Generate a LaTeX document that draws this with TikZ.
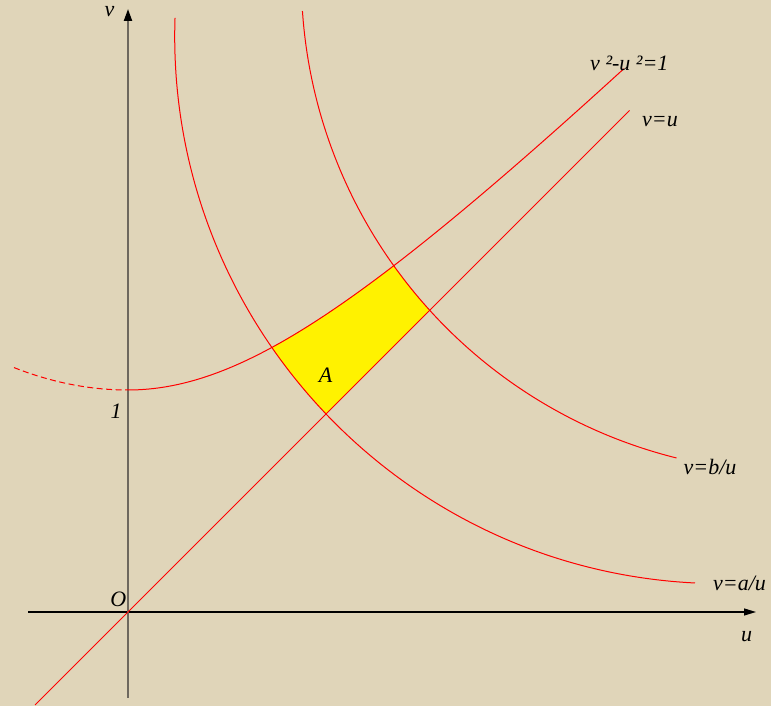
\documentclass[tikz,border=0pt]{standalone}
\usepackage{fontspec}
\setmainfont{Liberation Serif}
\usetikzlibrary{arrows.meta}
\definecolor{bg}{RGB}{224,213,185}
\definecolor{axgray}{RGB}{110,104,94}
\begin{document}
\begin{tikzpicture}[x=1pt,y=1pt,
  curve/.style={red, line width=1pt},
  lbl/.style={font=\itshape\fontsize{22}{25}\selectfont, inner sep=0pt, text=black}]
\fill[bg] (0,0) rectangle (771,706);
\useasboundingbox (0,0) rectangle (771,706);
% named points
\coordinate (ca) at (722.3,669.9);
\coordinate (cb) at (796.3,728.3);
\coordinate (O) at (128,94);
\coordinate (uL) at (28,94);
\coordinate (uR) at (756,94);
\coordinate (vB) at (128,8);
\coordinate (vT) at (128,697);
\coordinate (dL) at (35,1);
\coordinate (dR) at (629.5,595.5);
% region A
\begin{scope}
  \clip (ca) circle (547.6);
  \clip (-100,-134) -- (800,766) -- (-100,766) -- cycle;
  \clip (128,0) -- plot[domain=0:2.4, samples=80] ({128+222*\x},{94+222*sqrt(1+\x*\x)}) -- (800,0) -- cycle;
  \fill[yellow, even odd rule] (0,0) rectangle (771,706) (cb) circle (495);
\end{scope}
% axes
\draw[line width=1.2pt, -{Triangle[length=12pt,width=7pt]}] (uL) -- (uR);
\draw[axgray, line width=2pt, -{Triangle[length=12pt,width=8pt,color=black]}] (vB) -- (vT);
% curves
\draw[curve] plot[domain=0:2.234, samples=120] ({128+222*\x},{94+222*sqrt(1+\x*\x)});
\draw[curve, dash pattern=on 6pt off 3.5pt] plot[domain=14:128, samples=40] (\x,{316+0.00172*(\x-128)*(\x-128)});
\draw[curve] (ca) ++(178.1:547.6) arc[start angle=178.1, end angle=267.14, radius=547.6];
\draw[curve] (cb) ++(183.86:495) arc[start angle=183.86, end angle=256, radius=495];
\draw[curve] (dL) -- (dR);
% labels
\node[lbl] (lv) at (109.5,694) {v};
\node[lbl] (lu) at (746.7,69.3) {u};
\node[lbl] (la) at (739.5,123) {v=a/u};
\node[lbl] (lb) at (710,238.5) {v=b/u};
\node[lbl] (lh) at (629.3,643) {v ²-u ²=1};
\node[lbl] (ld) at (660,584) {v=u};
\node[lbl] (lA) at (325.7,331) {A};
\node[lbl] (lO) at (118.3,106.3) {O};
\node[lbl] (l1) at (116,294.3) {1};
\end{tikzpicture}
\end{document}
